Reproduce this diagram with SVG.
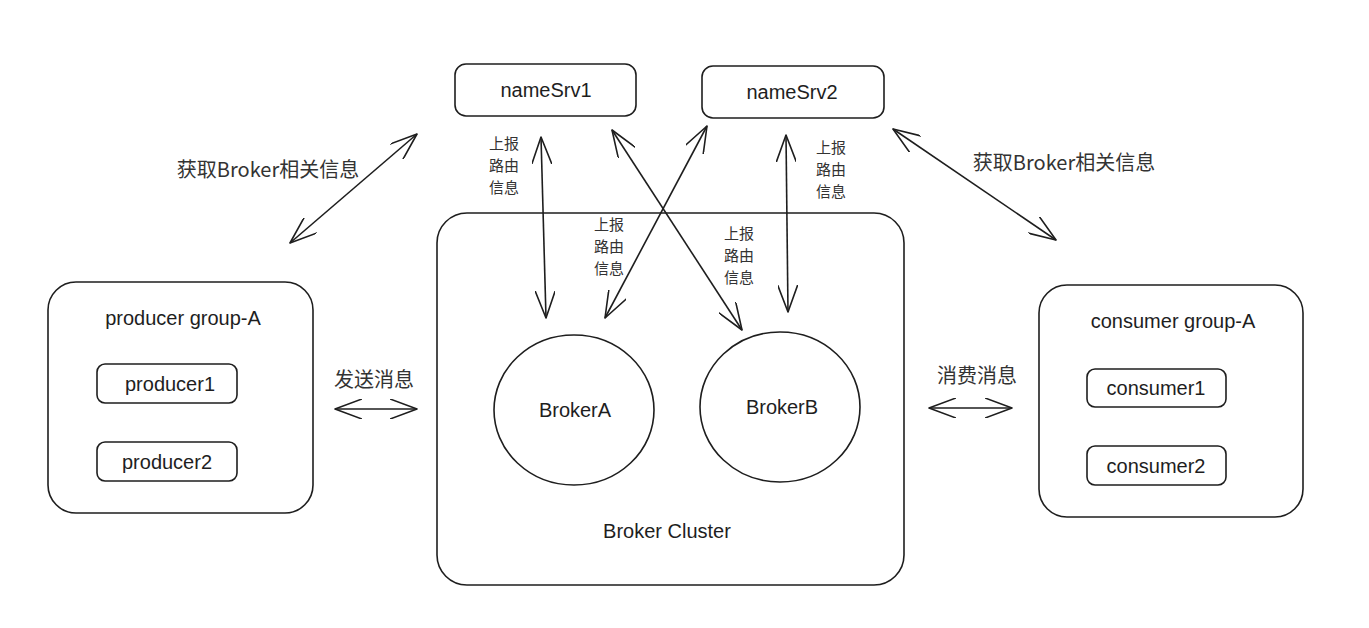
<svg xmlns="http://www.w3.org/2000/svg" width="1369" height="628" viewBox="0 0 1369 628">
<style>
.box{fill:none;stroke:#1e1e1e;stroke-width:1.6}
.t{font-family:"Liberation Sans","Noto Sans CJK SC",sans-serif;font-size:20px;fill:#1e1e1e;text-anchor:middle;dominant-baseline:central}
.c{font-family:"Noto Sans CJK SC","Liberation Sans",sans-serif;fill:#333;text-anchor:middle;dominant-baseline:central}
.lbl{font-size:15px}
.big{font-size:20px}
.arr{fill:none;stroke:#1e1e1e;stroke-width:1.6;marker-start:url(#ah);marker-end:url(#ah)}
</style>
<defs>
<marker id="ah" viewBox="0 0 28 20" refX="27" refY="10" markerWidth="28" markerHeight="20" markerUnits="userSpaceOnUse" orient="auto-start-reverse">
<path d="M0,0 L27,10 L0,20" fill="none" stroke="#1e1e1e" stroke-width="1.6" stroke-linecap="round" stroke-linejoin="round"/>
</marker>
</defs>
<rect width="1369" height="628" fill="#fff"/>

<g id="cluster">
<rect class="box" x="437" y="213" width="467" height="372" rx="30"/>
<text class="t" x="667" y="531">Broker Cluster</text>
</g>
<g id="nameSrv1">
<rect class="box" x="455" y="64" width="181" height="52" rx="11"/>
<text class="t" x="546" y="90">nameSrv1</text>
</g>
<g id="nameSrv2">
<rect class="box" x="702" y="66" width="182" height="52" rx="11"/>
<text class="t" x="792" y="92">nameSrv2</text>
</g>
<g id="brokerA">
<ellipse class="box" cx="574" cy="410" rx="80" ry="75"/>
<text class="t" x="575" y="410">BrokerA</text>
</g>
<g id="brokerB">
<ellipse class="box" cx="780" cy="407" rx="80" ry="75"/>
<text class="t" x="782" y="407">BrokerB</text>
</g>
<g id="producerGroup">
<rect class="box" x="48" y="282" width="265" height="231" rx="28"/>
<text class="t" x="183" y="318">producer group-A</text>
</g>
<g id="producer1">
<rect class="box" x="97" y="364" width="140" height="39" rx="8"/>
<text class="t" x="170" y="384">producer1</text>
</g>
<g id="producer2">
<rect class="box" x="97" y="442" width="140" height="39" rx="8"/>
<text class="t" x="167" y="462">producer2</text>
</g>
<g id="consumerGroup">
<rect class="box" x="1039" y="285" width="264" height="232" rx="28"/>
<text class="t" x="1173" y="321">consumer group-A</text>
</g>
<g id="consumer1">
<rect class="box" x="1087" y="369" width="139" height="38" rx="8"/>
<text class="t" x="1156" y="388">consumer1</text>
</g>
<g id="consumer2">
<rect class="box" x="1087" y="446" width="139" height="39" rx="8"/>
<text class="t" x="1156" y="466">consumer2</text>
</g>

<g id="connectors">
<line class="arr" x1="541" y1="137" x2="546" y2="318"/>
<line class="arr" x1="786" y1="135" x2="788" y2="312"/>
<line class="arr" x1="612" y1="130" x2="742" y2="330"/>
<line class="arr" x1="707" y1="126" x2="605" y2="318"/>
<line class="arr" x1="417" y1="134" x2="290" y2="243"/>
<line class="arr" x1="893" y1="129" x2="1056" y2="240"/>
<line class="arr" x1="335" y1="409" x2="417" y2="409"/>
<line class="arr" x1="929" y1="408" x2="1012" y2="408"/>
</g>

<g id="labels">
<text class="c lbl"><tspan x="504" y="142">上报</tspan><tspan x="504" y="164">路由</tspan><tspan x="504" y="186">信息</tspan></text>
<text class="c lbl"><tspan x="831" y="146">上报</tspan><tspan x="831" y="168">路由</tspan><tspan x="831" y="190">信息</tspan></text>
<text class="c lbl"><tspan x="609" y="223">上报</tspan><tspan x="609" y="245">路由</tspan><tspan x="609" y="267">信息</tspan></text>
<text class="c lbl"><tspan x="739" y="232">上报</tspan><tspan x="739" y="254">路由</tspan><tspan x="739" y="276">信息</tspan></text>
<text class="c big" x="268" y="168">获取Broker相关信息</text>
<text class="c big" x="1064" y="161">获取Broker相关信息</text>
<text class="c big" x="374" y="378">发送消息</text>
<text class="c big" x="977" y="374">消费消息</text>
</g>
</svg>
